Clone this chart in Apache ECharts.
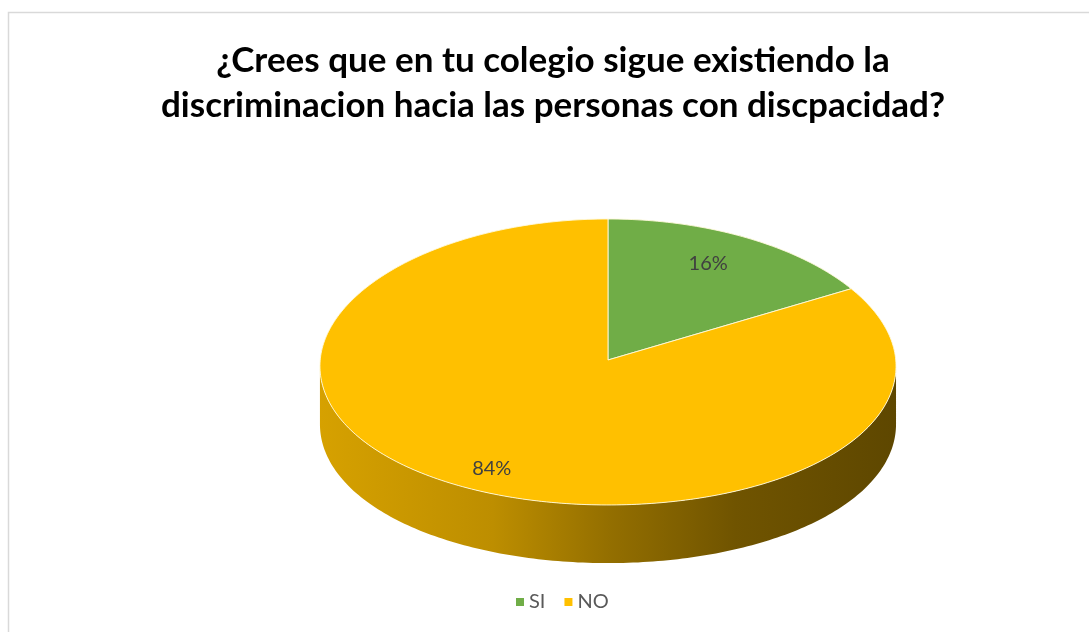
<!DOCTYPE html>
<html>
<head>
<meta charset="utf-8">
<script src="https://cdn.jsdelivr.net/npm/echarts@6/dist/echarts.min.js"></script>
<style>
html,body{margin:0;padding:0;background:#fff;}
#chart{width:1089px;height:632px;}
</style>
</head>
<body>
<div id="chart"></div>
<script>
// ---- data ----
const categories = ['SI', 'NO'];
const values = [16, 84];
const labelTexts = ['16%', '84%'];
const titleText = '¿Crees que en tu colegio sigue existiendo la\ndiscriminacion hacia las personas con discpacidad?';

// ---- styles ----
const sliceColors = ['#70AD47', '#FFC000'];
const FONT = 'Lato, "Open Sans", sans-serif';

function shade(hex, f) {
  const n = parseInt(hex.slice(1), 16);
  const r = Math.round(((n >> 16) & 255) * f), g = Math.round(((n >> 8) & 255) * f), b = Math.round((n & 255) * f);
  return 'rgb(' + r + ',' + g + ',' + b + ')';
}

const total = values.reduce((a, b) => a + b, 0);
const startFrac = [];
values.reduce((acc, v, i) => { startFrac[i] = acc / total; return acc + v; }, 0);

const chart = echarts.init(document.getElementById('chart'), null, { renderer: 'canvas' });

function renderItem(params, api) {
  const i = params.dataIndex;
  const W = api.getWidth(), H = api.getHeight();
  const cx = W * 0.5583, cy = H * 0.5696, rx = W * 0.2645;
  const ryBack = H * 0.2231, ryFront = H * 0.2294, depth = H * 0.092;
  const persp = H * 0.0095; // perspective: widest point lies a little below the centre
  const a0 = startFrac[i] * 360, a1 = a0 + api.value(0) / total * 360;
  const pt = (deg, dy) => {
    const t = deg * Math.PI / 180;
    const s = Math.sin(t), c = Math.cos(t);
    return [cx + rx * s, cy - (c > 0 ? ryBack : ryFront) * c + persp * s * s + (dy || 0)];
  };
  const arc = (s, e, dy) => {
    const pts = [];
    const n = Math.max(2, Math.ceil((e - s) / 1));
    for (let k = 0; k <= n; k++) pts.push(pt(s + (e - s) * k / n, dy));
    return pts;
  };
  const children = [];
  // front side (visible from 90deg to 270deg)
  const s = Math.max(a0, 90), e = Math.min(a1, 270);
  if (e > s) {
    const top = arc(s, e, 0);
    const bot = arc(s, e, depth).reverse();
    const col = sliceColors[i];
    children.push({
      type: 'polygon',
      z2: 1,
      shape: { points: top.concat(bot) },
      style: {
        fill: new echarts.graphic.LinearGradient(cx - rx, 0, cx + rx, 0, [
          { offset: 0, color: shade(col, 0.84) },
          { offset: 0.3, color: shade(col, 0.74) },
          { offset: 0.5, color: shade(col, 0.58) },
          { offset: 0.72, color: shade(col, 0.44) },
          { offset: 1, color: shade(col, 0.37) }
        ], true),
        stroke: null
      }
    });
  }
  // top face
  children.push({
    type: 'polygon',
    z2: 10,
    shape: { points: [[cx, cy]].concat(arc(a0, a1, 0)) },
    style: { fill: sliceColors[i], stroke: 'rgba(255,250,220,0.9)', lineWidth: 1 }
  });
  // label
  const mid = (a0 + a1) / 2;
  const lf = 0.78;
  const tm = mid * Math.PI / 180;
  children.push({
    type: 'text',
    z2: 20,
    x: cx + rx * lf * Math.sin(tm) - 8,
    y: cy - ryBack * lf * Math.cos(tm) + (i === 0 ? 0 : 12),
    style: {
      text: labelTexts[i],
      fill: '#404040',
      font: '20px ' + FONT,
      align: 'center',
      verticalAlign: 'middle'
    }
  });
  return { type: 'group', children: children };
}

chart.setOption({
  backgroundColor: '#ffffff',
  animation: false,
  title: {
    text: titleText,
    left: 553,
    textAlign: 'center',
    top: 38,
    padding: 0,
    textStyle: {
      fontFamily: FONT,
      fontWeight: 'bold',
      fontSize: 35,
      lineHeight: 45,
      color: '#000000'
    }
  },
  legend: {
    data: categories,
    left: 516,
    top: 592,
    padding: 0,
    icon: 'rect',
    itemWidth: 8,
    itemHeight: 8,
    itemGap: 19,
    selectedMode: false,
    textStyle: { fontFamily: FONT, fontSize: 20, color: '#595959' }
  },
  graphic: [{
    type: 'rect',
    shape: { x: 8.5, y: 12.5, width: 1200, height: 700 },
    style: { fill: null, stroke: '#d9d9d9', lineWidth: 1.5 },
    silent: true
  }],
  series: [
    {
      type: 'pie',
      radius: [0, 0],
      silent: true,
      label: { show: false },
      labelLine: { show: false },
      data: categories.map((c, i) => ({ name: c, value: values[i], itemStyle: { color: sliceColors[i] } }))
    },
    {
      type: 'custom',
      coordinateSystem: 'none',
      renderItem: renderItem,
      silent: true,
      data: values.map(v => [v])
    }
  ]
});
</script>
</body>
</html>
